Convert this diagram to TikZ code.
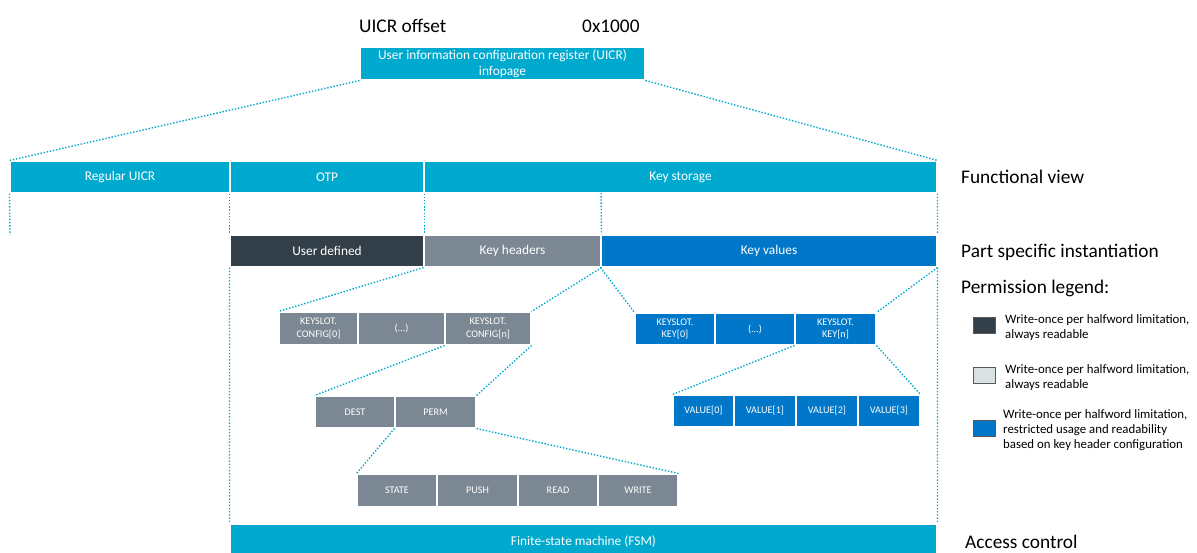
\documentclass[tikz,border=0pt]{standalone}
\usepackage{fontspec}
\setmainfont{Carlito}[Numbers={Lining,Monospaced}]

\definecolor{nordic}{HTML}{00A9CE}
\definecolor{keyblue}{HTML}{0077C8}
\definecolor{slate}{HTML}{333F48}
\definecolor{steel}{HTML}{7B8792}
\definecolor{mist}{HTML}{D9E1E2}

\tikzset{
  bar/.style={fill=nordic, draw=white, line width=0.6pt, text=white, inner sep=0pt,
    align=center, font=\fontsize{7.6}{9}\selectfont},
  cell/.style={bar, font=\fontsize{5.8}{7.2}\selectfont},
  zoomline/.style={nordic, densely dotted, line width=0.8pt},
  title/.style={anchor=west, font=\fontsize{11}{13}\selectfont},
  legendtext/.style={anchor=west, align=left, font=\fontsize{7.3}{8.6}\selectfont},
  swatch/.style={draw=black!65, line width=0.5pt, minimum width=0.44cm, minimum height=0.32cm, inner sep=0pt}
}

\begin{document}
\begin{tikzpicture}[x=0.02cm, y=-0.02cm]
  \useasboundingbox (0,0) rectangle (1197,552);

  \node[title] (offset) at (353,26) {UICR offset};
  \node[title] (addr) at (576,26) {0x1000};
  \node[bar, minimum width=5.7cm, minimum height=0.66cm] (uicr) at (502.5,63.5)
    {User information configuration register (UICR)\\infopage};

  % functional view
  \node[bar, minimum width=4.4cm, minimum height=0.64cm] (reg) at (120,177) {Regular UICR};
  \node[bar, minimum width=3.88cm, minimum height=0.64cm] (otp) at (327,177) {OTP};
  \node[bar, minimum width=10.26cm, minimum height=0.64cm] (store) at (680.5,177) {Key storage};

  % part specific instantiation
  \node[bar, fill=slate, minimum width=3.88cm, minimum height=0.64cm] (user) at (327,251) {User defined};
  \node[bar, fill=steel, minimum width=3.54cm, minimum height=0.64cm] (hdr) at (512.5,251) {Key headers};
  \node[bar, fill=keyblue, minimum width=6.72cm, minimum height=0.64cm] (val) at (769,251) {Key values};

  \node[cell, fill=steel, minimum width=1.58cm, minimum height=0.66cm] (cfg0) at (318.5,328.5) {KEYSLOT.\\CONFIG[0]};
  \node[cell, fill=steel, minimum width=1.74cm, minimum height=0.66cm] (cfgd) at (401.5,328.5) {(...)};
  \node[cell, fill=steel, minimum width=1.72cm, minimum height=0.66cm] (cfgn) at (488,328.5) {KEYSLOT.\\CONFIG[n]};

  \node[cell, fill=keyblue, minimum width=1.6cm, minimum height=0.64cm] (key0) at (675,329) {KEYSLOT.\\KEY[0]};
  \node[cell, fill=keyblue, minimum width=1.6cm, minimum height=0.64cm] (keyd) at (755,329) {(...)};
  \node[cell, fill=keyblue, minimum width=1.62cm, minimum height=0.64cm] (keyn) at (835.5,329) {KEYSLOT.\\KEY[n]};

  \node[cell, fill=steel, minimum width=1.6cm, minimum height=0.64cm] (dest) at (355,412) {DEST};
  \node[cell, fill=steel, minimum width=1.62cm, minimum height=0.64cm] (perm) at (435.5,412) {PERM};

  \node[cell, fill=keyblue, minimum width=1.22cm, minimum height=0.64cm] (val0) at (703.5,411) {VALUE[0]};
  \node[cell, fill=keyblue, minimum width=1.24cm, minimum height=0.64cm] (val1) at (765,411) {VALUE[1]};
  \node[cell, fill=keyblue, minimum width=1.24cm, minimum height=0.64cm] (val2) at (827,411) {VALUE[2]};
  \node[cell, fill=keyblue, minimum width=1.24cm, minimum height=0.64cm] (val3) at (889,411) {VALUE[3]};

  \node[cell, fill=steel, minimum width=1.6cm, minimum height=0.66cm] (state) at (397,490.5) {STATE};
  \node[cell, fill=steel, minimum width=1.62cm, minimum height=0.66cm] (push) at (477.5,490.5) {PUSH};
  \node[cell, fill=steel, minimum width=1.6cm, minimum height=0.66cm] (read) at (558,490.5) {READ};
  \node[cell, fill=steel, minimum width=1.6cm, minimum height=0.66cm] (write) at (638,490.5) {WRITE};

  % access control
  \node[bar, minimum width=14.14cm, minimum height=0.72cm] (fsm) at (583.5,542) {Finite-state machine (FSM)};

  % row titles and legend
  \node[title] (func) at (955,177) {Functional view};
  \node[title] (part) at (955,252) {Part specific instantiation};
  \node[title] (perml) at (955,288) {Permission legend:};
  \node[title] (acc) at (959,542) {Access control};

  \node[swatch, fill=slate] (sw1) at (984,325) {};
  \node[swatch, fill=mist] (sw2) at (984,375.5) {};
  \node[swatch, fill=keyblue] (sw3) at (984,428.5) {};
  \node[legendtext] (lg1) at (999,327.5) {Write-once per halfword limitation,\\always readable};
  \node[legendtext] (lg2) at (999,377.5) {Write-once per halfword limitation,\\always readable};
  \node[legendtext] (lg3) at (997,430) {Write-once per halfword limitation,\\restricted usage and readability\\based on key header configuration};

  \coordinate (regend) at (10,235);
  \coordinate (split) at (601,193);

  \draw[zoomline] (uicr.south west) -- (reg.north west);
  \draw[zoomline] (uicr.south east) -- (store.north east);
  \draw[zoomline] (reg.south west) -- (regend);
  \draw[zoomline] (otp.south west) -- (user.north west);
  \draw[zoomline] (otp.south east) -- (user.north east);
  \draw[zoomline] (split) -- (hdr.north east);
  \draw[zoomline] (store.south east) -- (val.north east);
  \draw[zoomline] (user.south west) -- (fsm.north west);
  \draw[zoomline] (val.south east) -- (fsm.north east);
  \draw[zoomline] (hdr.south west) -- (cfg0.north west);
  \draw[zoomline] (hdr.south east) -- (cfgn.north east);
  \draw[zoomline] (val.south west) -- (key0.north west);
  \draw[zoomline] (val.south east) -- (keyn.north east);
  \draw[zoomline] (cfgn.south west) -- (dest.north west);
  \draw[zoomline] (cfgn.south east) -- (perm.north east);
  \draw[zoomline] (perm.south west) -- (state.north west);
  \draw[zoomline] (perm.south east) -- (write.north east);
  \draw[zoomline] (keyn.south west) -- (val0.north west);
  \draw[zoomline] (keyn.south east) -- (val3.north east);
\end{tikzpicture}
\end{document}
